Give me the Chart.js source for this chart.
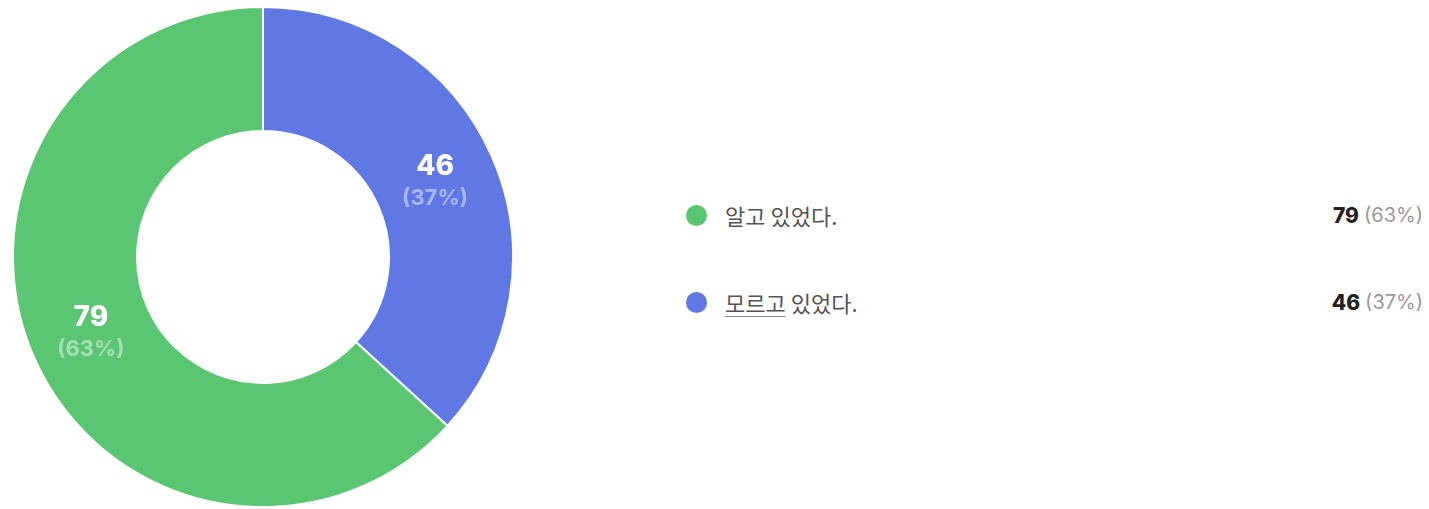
<!DOCTYPE html>
<html>
<head>
<meta charset="utf-8">
<script src="https://cdn.jsdelivr.net/npm/chart.js@4.4.1/dist/chart.umd.min.js"></script>
<style>
    html, body { margin: 0; padding: 0; background: #fff; }
    body { width: 1429px; height: 509px; position: relative; overflow: hidden;
           font-family: Inter, 'Noto Sans CJK KR', sans-serif; }
    #chartBox { position: absolute; left: 13px; top: 7px; width: 500px; height: 500px; }
    #legend { position: absolute; left: 686px; top: 0; width: 737px; }
    .row { position: absolute; left: 0; width: 737px; height: 30px; display: flex; align-items: center; }
    .dot { width: 21px; height: 21px; border-radius: 50%; margin-right: 18px; }
    .name { font-family: 'Noto Sans CJK KR', sans-serif; font-size: 22px; color: #555; flex: 1; }
    .name u { text-decoration-color: #888; text-underline-offset: 4px; text-decoration-thickness: 1px; }
    .val { font-size: 21px; color: #222; font-weight: 800; }
    .pct { font-size: 20px; color: #999; margin-left: 5px; }
</style>
</head>
<body>
<div id="chartBox"><canvas id="pie"></canvas></div>
<div id="legend"></div>
<script>
    // Survey answers
    const labels = ['알고 있었다.', '모르고 있었다.'];
    const counts = [79, 46];
    const colors = ['rgb(91, 198, 114)', 'rgb(96, 120, 227)'];

    const total = counts.reduce(function(a, b) { return a + b; }, 0);
    const pct = counts.map(function(v) { return Math.round(v / total * 100); });

    // Legend on the right
    const legendTops = [200, 287];
    const legend = document.getElementById('legend');
    labels.forEach(function(label, i) {
        let name = label;
        if (i === 1) name = '<u>모르고</u> 있었다.';
        const row = document.createElement('div');
        row.className = 'row';
        row.style.top = legendTops[i] + 'px';
        row.innerHTML = `<span class="dot" style="background:${colors[i]}"></span>` +
            `<span class="name">${name}</span>` +
            `<span class="val">${counts[i]}</span><span class="pct">(${pct[i]}%)</span>`;
        legend.appendChild(row);
    });

    // Numbers drawn inside each slice
    const sliceLabels = {
        id: 'sliceLabels',
        afterDatasetsDraw: function(chart) {
            const ctx = chart.ctx;
            const meta = chart.getDatasetMeta(0);
            const data = chart.data.datasets[0].data;
            meta.data.forEach(function(arc, i) {
                const p = arc.tooltipPosition();
                const share = Math.round(data[i] / total * 100);
                ctx.save();
                ctx.textAlign = 'center';
                ctx.textBaseline = 'middle';
                ctx.fillStyle = '#ffffff';
                ctx.font = '800 28px Inter, sans-serif';
                ctx.fillText(String(data[i]), p.x, p.y - 15);
                ctx.fillStyle = 'rgba(255, 255, 255, 0.45)';
                ctx.font = '700 22px Inter, sans-serif';
                ctx.fillText('(' + share + '%)', p.x, p.y + 17);
                ctx.restore();
            });
        }
    };

    // Blue slice starts at the top, so feed the chart in reverse
    const pieCtx = document.getElementById('pie').getContext('2d');
    new Chart(pieCtx, {
        type: 'doughnut',
        data: {
            labels: labels.slice().reverse(),
            datasets: [{
                data: counts.slice().reverse(),
                backgroundColor: colors.slice().reverse(),
                borderColor: '#ffffff',
                borderWidth: 2,
                hoverOffset: 0
            }]
        },
        options: {
            responsive: true,
            maintainAspectRatio: false,
            animation: false,
            radius: 250,
            cutout: '50.4%',
            layout: { padding: 0 },
            plugins: {
                legend: { display: false },
                tooltip: { enabled: false }
            }
        },
        plugins: [sliceLabels]
    });
</script>
</body>
</html>
